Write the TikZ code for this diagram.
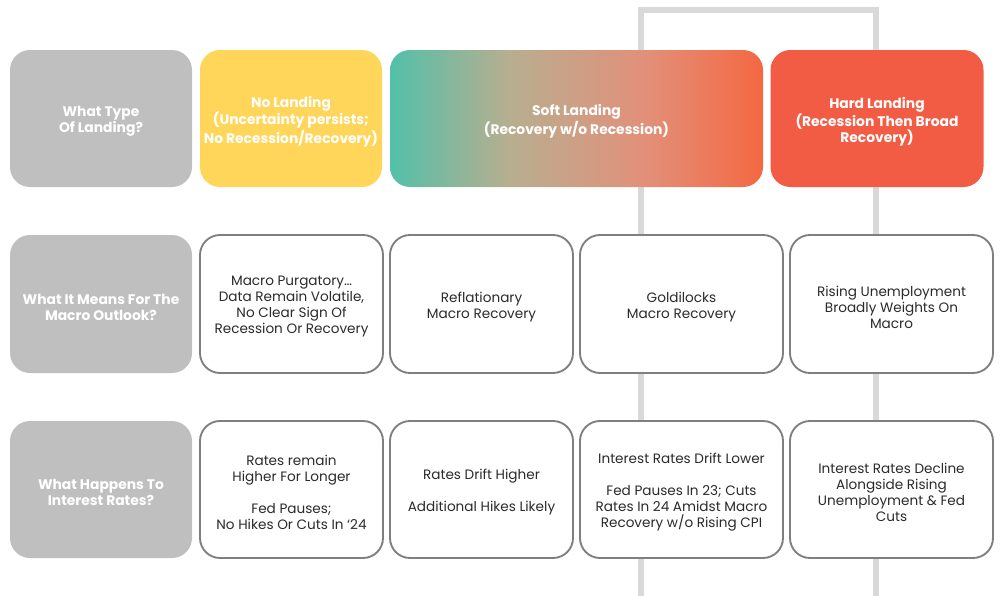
\documentclass[tikz,border=0pt]{standalone}
\usepackage{fontspec}
\setmainfont{Poppins}
\definecolor{lbl}{HTML}{BFBFBF}
\definecolor{ylw}{HTML}{FFD55A}
\definecolor{hard}{HTML}{F25C44}
\definecolor{tealc}{HTML}{52C0A8}
\definecolor{tanc}{HTML}{B8AE90}
\definecolor{salm}{HTML}{E2907A}
\definecolor{orng}{HTML}{F46842}
\definecolor{edge}{HTML}{7F7F7F}
\definecolor{conn}{HTML}{D9D9D9}
\definecolor{txt}{HTML}{2B2B2B}
\pgfdeclarehorizontalshading{softgrad}{100bp}{color(0bp)=(tealc); color(25bp)=(tealc); color(41bp)=(tanc); color(59bp)=(salm); color(75bp)=(orng); color(100bp)=(orng)}
\def\px{0.75pt}
\begin{document}
\begin{tikzpicture}[x=0.75pt,y=-0.75pt,
  base/.style={rounded corners=15pt, inner sep=0pt},
  head/.style={base, draw=none},
  outl/.style={base, draw=edge, line width=1.4pt, fill=white},
  htext/.style={inner sep=0pt, align=center, text=white, font=\fontsize{10.4pt}{12pt}\selectfont\bfseries},
  btext/.style={inner sep=0pt, align=center, text=txt, font=\fontsize{10.2pt}{12pt}\selectfont},
  connline/.style={draw=conn, line width=3.8pt}]
\useasboundingbox (0,0) rectangle (1001,596);
% connectors (behind)
\coordinate (bl) at (641,600);
\coordinate (tl) at (641,10);
\coordinate (tr) at (876,10);
\coordinate (br) at (876,600);
\draw[connline] (bl) -- (tl) -- (tr) -- (br);
% row 1
\node[head, fill=lbl, minimum width=182*\px, minimum height=137*\px] (q1) at (101,118.5) {};
\node[head, fill=ylw, minimum width=182*\px, minimum height=137*\px] (noland) at (291,118.5) {};
\node[head, shade, shading=softgrad, minimum width=373*\px, minimum height=137*\px] (soft) at (576.5,118.5) {};
\node[head, fill=hard, minimum width=213*\px, minimum height=137*\px] (hardl) at (877,118.5) {};
\node[htext] (q1t) at ([yshift=-2.2pt]q1.center) {What Type\\Of Landing?};
\node[htext] (nolandt) at ([yshift=-2.2pt]noland.center) {No Landing\\(Uncertainty persists;\\No Recession/Recovery)};
\node[htext] (softt) at ([yshift=-2.2pt]soft.center) {Soft Landing\\(Recovery w/o Recession)};
\node[htext] (hardlt) at ([yshift=-2.2pt]hardl.center) {Hard Landing\\(Recession Then Broad\\Recovery)};
% row 2
\node[head, fill=lbl, minimum width=182*\px, minimum height=138*\px] (q2) at (101,304) {};
\node[outl, minimum width=183*\px, minimum height=138*\px] (m1) at (291.5,304) {};
\node[outl, minimum width=183*\px, minimum height=138*\px] (m2) at (481.5,304) {};
\node[outl, minimum width=203*\px, minimum height=138*\px] (m3) at (681.5,304) {};
\node[outl, minimum width=203*\px, minimum height=138*\px] (m4) at (891.5,304) {};
\node[htext] (q2t) at ([yshift=-2.2pt]q2.center) {What It Means For The\\Macro Outlook?};
\node[btext] (m1t) at ([yshift=-2.2pt]m1.center) {Macro Purgatory\dots\\Data Remain Volatile,\\No Clear Sign Of\\Recession Or Recovery};
\node[btext] (m2t) at ([yshift=-2.2pt]m2.center) {Reflationary\\Macro Recovery};
\node[btext] (m3t) at ([yshift=-2.2pt]m3.center) {Goldilocks\\Macro Recovery};
\node[btext] (m4t) at ([yshift=-2.2pt]m4.center) {Rising Unemployment\\Broadly Weights On\\Macro};
% row 3
\node[head, fill=lbl, minimum width=182*\px, minimum height=137*\px] (q3) at (101,489.5) {};
\node[outl, minimum width=183*\px, minimum height=137*\px] (r1) at (291.5,489.5) {};
\node[outl, minimum width=183*\px, minimum height=137*\px] (r2) at (481.5,489.5) {};
\node[outl, minimum width=203*\px, minimum height=137*\px] (r3) at (681.5,489.5) {};
\node[outl, minimum width=203*\px, minimum height=137*\px] (r4) at (891.5,489.5) {};
\node[htext] (q3t) at ([yshift=-2.2pt]q3.center) {What Happens To\\Interest Rates?};
\node[btext] (r1t) at ([yshift=-2.2pt]r1.center) {Rates remain\\Higher For Longer\\[12pt]Fed Pauses;\\No Hikes Or Cuts In ‘24};
\node[btext] (r2t) at ([yshift=-2.2pt]r2.center) {Rates Drift Higher\\[12pt]Additional Hikes Likely};
\node[btext] (r3t) at ([yshift=-2.2pt]r3.center) {Interest Rates Drift Lower\\[12pt]Fed Pauses In 23; Cuts\\Rates In 24 Amidst Macro\\Recovery w/o Rising CPI};
\node[btext] (r4t) at ([yshift=-2.2pt]r4.center) {Interest Rates Decline\\Alongside Rising\\Unemployment \& Fed\\Cuts};
\end{tikzpicture}
\end{document}
